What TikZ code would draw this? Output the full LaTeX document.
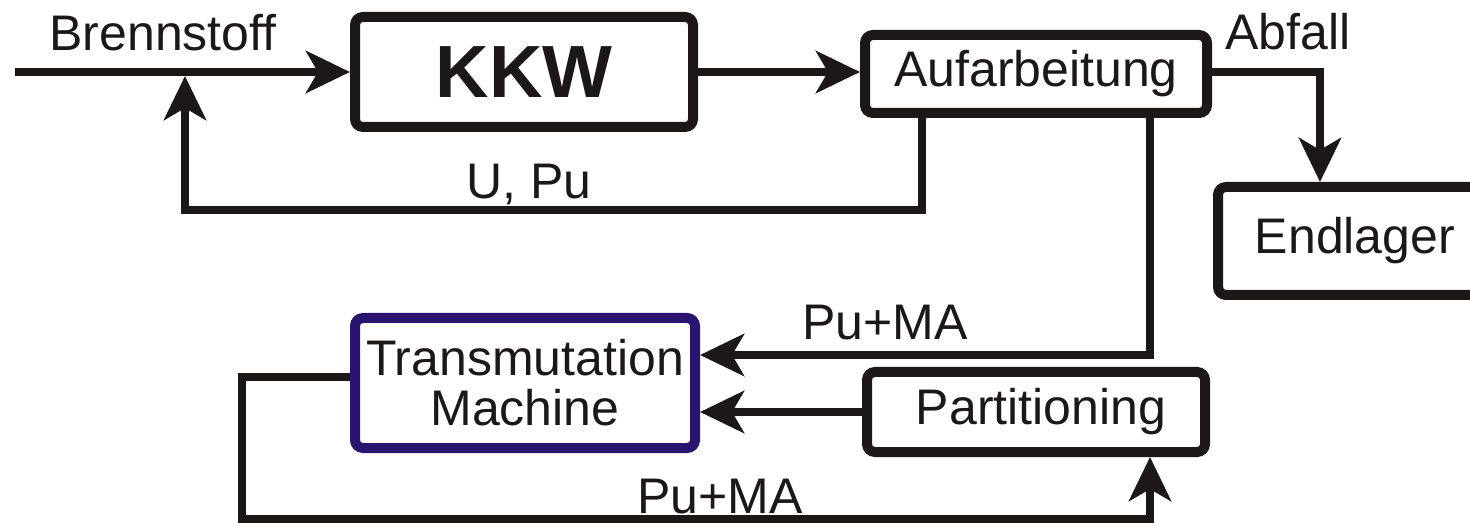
\documentclass[tikz,border=0pt]{standalone}
\usepackage{fontspec}
\setmainfont{Liberation Sans}
\usetikzlibrary{arrows.meta,positioning}
\definecolor{tmblue}{RGB}{42,20,112}
\definecolor{ink}{RGB}{28,24,24}
\tikzset{
  blk/.style={draw=ink, line width=10pt, rounded corners=8pt, inner sep=0pt, align=center},
  arr/.style={draw=ink, line width=8pt, -{Stealth[length=44pt,width=42pt,inset=12pt]}},
  lbl/.style={text=ink, font=\fontsize{50}{52}\selectfont, inner sep=0pt}
}

\begin{document}
\begin{tikzpicture}[x=1pt, y=-1pt]
          \useasboundingbox (0,0) rectangle (1470,526);
          \clip (0,0) rectangle (1470,526);
          \node[blk, minimum width=338pt, minimum height=110pt, text=ink, font=\fontsize{74}{80}\selectfont\bfseries] (kkw) at (524,72) {KKW};
          \node[blk, lbl, minimum width=342pt, minimum height=78pt] (auf) at (1036,74) {Aufarbeitung};
          \node[blk, lbl, minimum width=500pt, minimum height=108pt] (endl) at (1468,241) {Endlager\hspace*{226pt}};
          \node[blk, lbl, draw=tmblue, minimum width=340pt, minimum height=130pt, font=\fontsize{50}{50}\selectfont] (trans) at (525,383) {Transmutation\\Machine};
          \node[blk, lbl, minimum width=338pt, minimum height=80pt] (part) at (1036,412) {\hspace*{10pt}Partitioning};
          \node[lbl] (brenn) at (163,33) {Brennstoff};
          \node[lbl] (abf) at (1288,32) {Abfall};
          \node[lbl] (upu) at (529,185) {U, Pu};
          \node[lbl] (pma1) at (885,323) {Pu+MA};
          \node[lbl] (pma2) at (720,497) {Pu+MA};
          \coordinate (in) at (15,72);
          \coordinate (j) at (185,76);
          \coordinate (fb) at (922,210);
          \coordinate (ab) at (1320,72);
          \coordinate (pm) at (1150,355);
          \coordinate (tl) at (242,377);
          \coordinate (lo) at (242,519);
          \draw [arr] (in) -- (kkw.west |- in); 
          \draw [arr] (kkw.east |- in) -- (auf.west |- in); 
          \draw [arr] (auf.south -| fb) -- (fb) -| (j); 
          \draw [arr] (auf.east |- ab) -| (endl.north -| ab); 
          \draw [arr] (auf.south -| pm) |- (trans.east |- pm); 
          \draw [arr] (part.west) -- (trans.east |- part.west); 
          \draw [arr] (trans.west |- tl) -- (tl) -- (lo) -| (part.south -| pm); 
\end{tikzpicture}
\end{document}
